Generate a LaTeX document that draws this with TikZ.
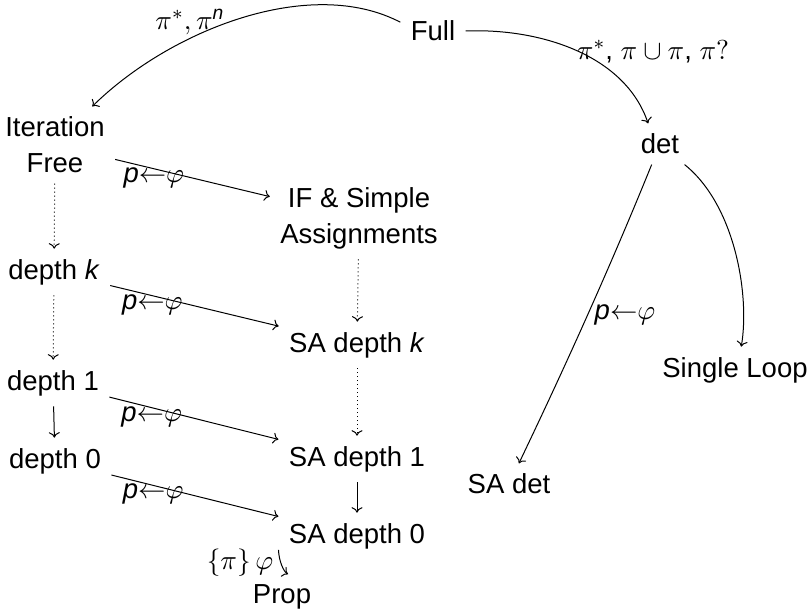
\documentclass[tikz,border=0pt]{standalone}
\usepackage{amsmath}
\usepackage{fontspec}
\setmainfont{Liberation Sans}
\usetikzlibrary{arrows.meta}
\newcommand{\asgn}{\textit{p}${\leftarrow}\varphi$}

\begin{document}
\begin{tikzpicture}[x=0.4pt,y=-0.4pt,
  obj/.style={inner sep=4pt,align=center,font=\fontsize{11}{14.4}\selectfont},
  lab/.style={inner sep=0pt,font=\fontsize{11}{13}\selectfont},
  arr/.style={line width=0.4pt,-{To[length=2.2pt,width=4.4pt]}},
  dots/.style={arr,dash pattern=on 0.4pt off 1.2pt}]
  \useasboundingbox (0,0) rectangle (810,610);
  % fragments
  \node[obj] (full) at (433,31) {Full};
  \node[obj] (itfree) at (55,145) {Iteration\\Free};
  \node[obj] (det) at (660,144) {det};
  \node[obj] (ifsa) at (359,218) {IF \& Simple\\Assignments};
  \node[obj] (dk) at (54,272) {depth \textit{k}};
  \node[obj] (sadk) at (357,345) {SA depth \textit{k}};
  \node[obj] (loop) at (735,370) {Single Loop};
  \node[obj] (d1) at (53,383) {depth 1};
  \node[obj] (sad1) at (357,459) {SA depth 1};
  \node[obj] (d0) at (55,461) {depth 0};
  \node[obj] (sadet) at (509,484) {SA det};
  \node[obj] (sad0) at (357,536) {SA depth 0};
  \node[obj] (prop) at (282,597) {Prop};
  % curved arrows from the top
  \draw[arr] (full.165) .. controls (310,-25) and (170,30) .. (itfree.46);
  \node[lab] (lstar) at (190,22) {$\pi^*, \pi^{\textit{n}}$};
  \draw[arr] (full.east) .. controls (540,28) and (625,55) .. (det.120);
  \node[lab] (ldet) at (653,52) {$\pi^*$, $\pi\cup\pi$, $\pi?$};
  \draw[arr] (det) .. controls (611,265) and (566,365) .. (sadet);
  \node[lab] (lsadet) at (625,315) {\asgn};
  \draw[arr] (det.-40) .. controls (735,205) and (750,295) .. (loop.75);
  % assignments to the right
  \foreach \a/\b in {itfree/ifsa,dk/sadk,d1/sad1,d0/sad0}
    \draw[arr] (\a) -- node[lab,pos=.25,yshift=-3.6pt] {\asgn} (\b);
  % depth chains
  \draw[dots] (itfree) -- (dk);
  \draw[dots] (dk) -- (d1);
  \draw[arr] (d1) -- (d0);
  \draw[dots] (ifsa) -- (sadk);
  \draw[dots] (sadk) -- (sad1);
  \draw[arr] (sad1) -- (sad0);
  \draw[arr] (sad0.190) .. controls (279,562) and (284,572) .. (prop.75);
  \node[lab] (lprop) at (240,563) {$\{\pi\}\,\varphi$};
\end{tikzpicture}
\end{document}
